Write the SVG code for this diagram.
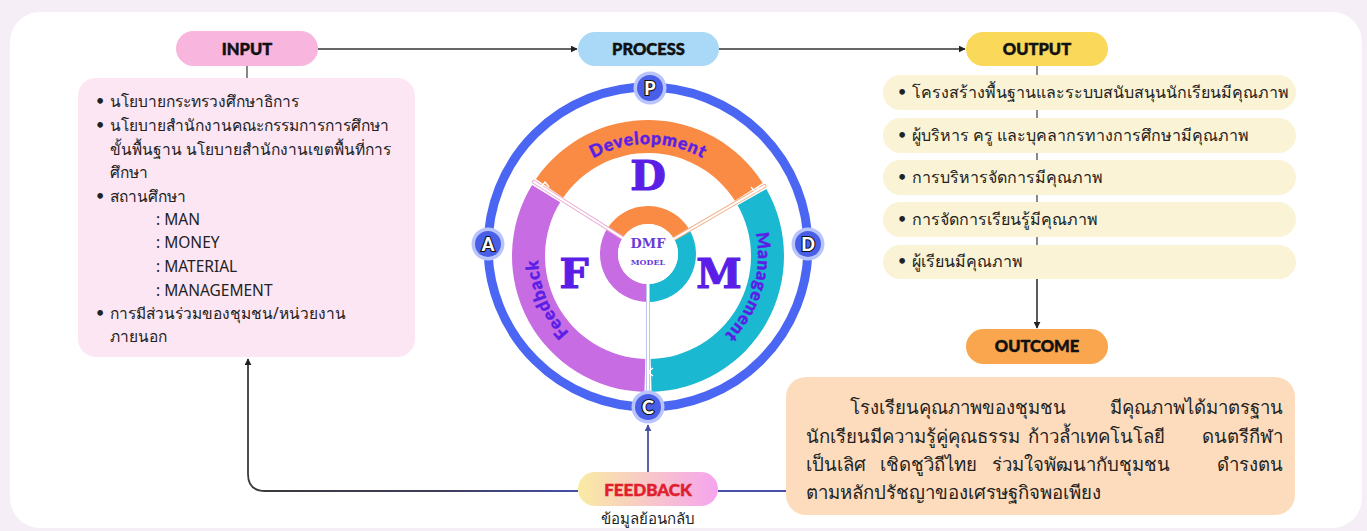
<svg xmlns="http://www.w3.org/2000/svg" width="1367" height="531" viewBox="0 0 1367 531">
<defs>
<style>
.hdr{font-family:"Lato","Inter",sans-serif;font-weight:900;font-size:16.5px;fill:#111;stroke:#111;stroke-width:0.5;text-anchor:middle}
.th{font-family:"Noto Sans","DejaVu Sans",sans-serif;font-size:16px;fill:#222}
.ti{font-family:"Noto Sans","DejaVu Sans",sans-serif;font-size:15.5px;fill:#222}
.bu{font-family:"DejaVu Sans",sans-serif;font-size:16px;fill:#222;font-weight:bold}
.oc{font-family:"Noto Sans","DejaVu Sans",sans-serif;font-size:18.6px;fill:#222}
.big{font-family:"DejaVu Serif",serif;font-weight:bold;font-size:41px;fill:#5a1ee6;stroke:#5a1ee6;stroke-width:1.2;text-anchor:middle}
.arc{font-family:"Lato","Inter",sans-serif;font-weight:900;font-size:17.5px;fill:#5a1ee6;stroke:#5a1ee6;stroke-width:0.4}
.pda{font-family:"Lato","Inter",sans-serif;font-weight:900;font-size:18px;fill:#fff;stroke:#111;stroke-width:2.2;paint-order:stroke;text-anchor:middle}
.ln{fill:none;stroke:#333;stroke-width:1.6}
.lb{fill:none;stroke:#4650a8;stroke-width:1.8}
.tick{stroke:#555;stroke-width:1.4}
</style>
<marker id="ah" viewBox="0 0 10 10" refX="9" refY="5" markerWidth="7" markerHeight="7" orient="auto-start-reverse" markerUnits="userSpaceOnUse">
<path d="M0,0 L10,5 L0,10 z" fill="#222"/>
</marker>
<marker id="ahb" viewBox="0 0 10 10" refX="9" refY="5" markerWidth="7" markerHeight="7" orient="auto-start-reverse" markerUnits="userSpaceOnUse">
<path d="M0,0 L10,5 L0,10 z" fill="#4650a8"/>
</marker>
<linearGradient id="fbg" x1="0" y1="0" x2="1" y2="0">
<stop offset="0" stop-color="#f9eba2"/>
<stop offset="1" stop-color="#f6a4ee"/>
</linearGradient>
<linearGradient id="fbl" x1="0" y1="0" x2="1" y2="0">
<stop offset="0" stop-color="#3a3a3a"/>
<stop offset="0.6" stop-color="#3e3e5c"/>
<stop offset="1" stop-color="#4650a8"/>
</linearGradient>
<path id="pDev" d="M 542.75 217.70 A 112 112 0 0 1 753.25 217.70"/>
<path id="pMan" d="M 728.45 180.98 A 110 110 0 0 1 672.75 363.18"/>
<path id="pFee" d="M 634.59 365.18 A 110 110 0 0 1 560.15 189.80"/>
</defs>

<rect x="0" y="0" width="1367" height="531" fill="#f6eef6"/>
<rect x="10" y="12" width="1352" height="516" rx="30" fill="#ffffff"/>

<g id="connectors">
<line class="ln" x1="318" y1="49" x2="577" y2="49" marker-end="url(#ah)"/>
<line class="ln" x1="719" y1="49" x2="965" y2="49" marker-end="url(#ah)"/>
<line class="tick" x1="247" y1="66" x2="247" y2="78"/>
<line class="tick" x1="1037" y1="66" x2="1037" y2="75"/>
<line class="tick" x1="1037" y1="110" x2="1037" y2="118"/>
<line class="tick" x1="1037" y1="153" x2="1037" y2="160"/>
<line class="tick" x1="1037" y1="195" x2="1037" y2="202"/>
<line class="tick" x1="1037" y1="237" x2="1037" y2="245"/>
<line class="ln" x1="1037" y1="279" x2="1037" y2="328" marker-end="url(#ah)"/>
<path d="M 578 491 L 265 491 Q 248 491 248 474 L 248 359" fill="none" stroke="url(#fbl)" stroke-width="1.8" marker-end="url(#ah)"/>
<line class="lb" x1="718" y1="491" x2="786" y2="491"/>
<line class="lb" x1="648" y1="472" x2="648" y2="425" marker-end="url(#ahb)"/>
</g>

<g id="input">
<rect x="176" y="31" width="142" height="35" rx="17.5" fill="#f8b6df"/>
<text class="hdr" x="247" y="55">INPUT</text>
</g>

<g id="input-box">
<rect x="78" y="78" width="337" height="279" rx="18" fill="#fce6f3"/>
<g class="bu">
<text x="95" y="107">•</text><text x="95" y="131">•</text><text x="95" y="202">•</text><text x="95" y="319">•</text>
</g>
<g class="ti">
<text x="110" y="107">นโยบายกระทรวงศึกษาธิการ</text>
<text x="110" y="131">นโยบายสำนักงานคณะกรรมการการศึกษา</text>
<text x="110" y="155">ขั้นพื้นฐาน นโยบายสำนักงานเขตพื้นที่การ</text>
<text x="110" y="178">ศึกษา</text>
<text x="110" y="202">สถานศึกษา</text>
<text x="156" y="225">: MAN</text>
<text x="156" y="248">: MONEY</text>
<text x="156" y="272">: MATERIAL</text>
<text x="156" y="296">: MANAGEMENT</text>
<text x="110" y="319">การมีส่วนร่วมของชุมชน/หน่วยงาน</text>
<text x="110" y="342">ภายนอก</text>
</g>
</g>

<g id="process">
<rect x="578" y="32" width="141" height="34" rx="17" fill="#a9d9f6"/>
<text class="hdr" x="648.5" y="55">PROCESS</text>
</g>

<g id="output">
<rect x="966" y="32" width="142" height="34" rx="17" fill="#f9d85a"/>
<text class="hdr" x="1037" y="55">OUTPUT</text>
</g>

<g id="output-items">
<g fill="#faf3d5">
<rect x="883" y="75" width="413" height="35" rx="17.5"/>
<rect x="883" y="118" width="413" height="35" rx="17.5"/>
<rect x="883" y="160" width="413" height="35" rx="17.5"/>
<rect x="883" y="202" width="413" height="35" rx="17.5"/>
<rect x="883" y="245" width="413" height="34" rx="17"/>
</g>
<g class="bu">
<text x="897" y="98">•</text><text x="897" y="141">•</text><text x="897" y="183">•</text><text x="897" y="225">•</text><text x="897" y="267">•</text>
</g>
<g class="th">
<text x="912" y="98">โครงสร้างพื้นฐานและระบบสนับสนุนนักเรียนมีคุณภาพ</text>
<text x="912" y="141">ผู้บริหาร ครู และบุคลากรทางการศึกษามีคุณภาพ</text>
<text x="912" y="183">การบริหารจัดการมีคุณภาพ</text>
<text x="912" y="225">การจัดการเรียนรู้มีคุณภาพ</text>
<text x="912" y="267">ผู้เรียนมีคุณภาพ</text>
</g>
</g>

<g id="outcome">
<rect x="966" y="329" width="142" height="35" rx="17.5" fill="#f9a64e"/>
<text class="hdr" x="1037" y="352">OUTCOME</text>
</g>

<g id="outcome-box">
<rect x="786" y="377" width="509" height="138" rx="20" fill="#fddcbd"/>
<g class="oc">
<text x="850" y="414">โรงเรียนคุณภาพของชุมชน</text>
<text x="1283" y="414" text-anchor="end">มีคุณภาพได้มาตรฐาน</text>
<text x="806" y="443">นักเรียนมีความรู้คู่คุณธรรม</text>
<text x="1028" y="443">ก้าวล้ำเทคโนโลยี</text>
<text x="1283" y="443" text-anchor="end">ดนตรีกีฬา</text>
<text x="806" y="471">เป็นเลิศ</text>
<text x="880" y="471">เชิดชูวิถีไทย</text>
<text x="992" y="471">ร่วมใจพัฒนากับชุมชน</text>
<text x="1283" y="471" text-anchor="end">ดำรงตน</text>
<text x="806" y="499">ตามหลักปรัชญาของเศรษฐกิจพอเพียง</text>
</g>
</g>

<g id="feedback">
<rect x="578" y="472" width="140" height="34" rx="17" fill="url(#fbg)"/>
<text x="648" y="496" text-anchor="middle" style="font-family:'Lato','Inter',sans-serif;font-weight:900;font-size:17px;fill:#e01f2e;stroke:#e01f2e;stroke-width:0.5">FEEDBACK</text>
<text class="th" x="648" y="524" text-anchor="middle" style="font-size:15px">ข้อมูลย้อนกลับ</text>
</g>

<g id="dmf-model">
<circle cx="648" cy="247" r="160" fill="none" stroke="#4b66f2" stroke-width="9"/>
<path d="M 535.92 178.97 A 136 136 0 0 1 762.70 182.93 L 734.87 200.66 A 103 103 0 0 0 563.12 197.66 Z" fill="#f98b45"/>
<path d="M 766.37 189.03 A 136 136 0 0 1 651.56 391.95 L 650.70 358.96 A 103 103 0 0 0 737.65 205.28 Z" fill="#1bb8d2"/>
<path d="M 644.44 391.95 A 136 136 0 0 1 532.05 184.94 L 560.18 202.18 A 103 103 0 0 0 645.30 358.96 Z" fill="#c76ce2"/>
<path d="M 615.29 232.76 A 39 39 0 0 1 681.43 233.91" fill="none" stroke="#f98b45" stroke-width="18"/>
<path d="M 681.43 233.91 A 39 39 0 0 1 648 293" fill="none" stroke="#1bb8d2" stroke-width="18"/>
<path d="M 648 293 A 39 39 0 0 1 615.29 232.76" fill="none" stroke="#c76ce2" stroke-width="18"/>
<g stroke-linecap="round">
<line x1="648" y1="254" x2="533.94" y2="181.93" stroke="#eab0d6" stroke-width="4"/>
<line x1="648" y1="254" x2="764.58" y2="185.95" stroke="#f3b48e" stroke-width="4"/>
<line x1="648" y1="254" x2="648" y2="392" stroke="#c0c6ee" stroke-width="4"/>
<line x1="648" y1="254" x2="533.94" y2="181.93" stroke="#fff" stroke-width="2"/>
<line x1="648" y1="254" x2="764.58" y2="185.95" stroke="#fff" stroke-width="2"/>
<line x1="648" y1="254" x2="648" y2="392" stroke="#fff" stroke-width="2"/>
</g>
<circle cx="648" cy="254" r="30" fill="#fff"/>
<text x="648" y="248" text-anchor="middle" style="font-family:'DejaVu Serif',serif;font-weight:bold;font-size:13px;fill:#6a3ad8">DMF</text>
<text x="648" y="265" text-anchor="middle" style="font-family:'DejaVu Serif',serif;font-weight:bold;font-size:8px;fill:#6a3ad8">MODEL</text>
<g fill="none" stroke="#fff" stroke-width="1.4">
<polyline points="541,187 545,182 549,187"/>
<polyline points="751,187 755,192 759,187"/>
<polyline points="653,368 648,372 653,376"/>
</g>
<text class="arc" letter-spacing="0.8"><textPath href="#pDev" startOffset="50%" text-anchor="middle">Development</textPath></text>
<text class="arc" letter-spacing="0.8"><textPath href="#pMan" startOffset="50%" text-anchor="middle">Management</textPath></text>
<text class="arc" letter-spacing="0.8"><textPath href="#pFee" startOffset="50%" text-anchor="middle">Feedback</textPath></text>
<text class="big" x="648" y="190">D</text>
<text class="big" x="574" y="288">F</text>
<text class="big" x="719" y="288">M</text>
<g>
<circle cx="650" cy="88" r="16.5" fill="#b8c4fa"/><circle cx="650" cy="88" r="13" fill="#4a5fe8"/>
<text class="pda" x="650" y="94.5">P</text>
<circle cx="488" cy="244" r="16.5" fill="#b8c4fa"/><circle cx="488" cy="244" r="13" fill="#4a5fe8"/>
<text class="pda" x="488" y="250.5">A</text>
<circle cx="808" cy="244" r="16.5" fill="#b8c4fa"/><circle cx="808" cy="244" r="13" fill="#4a5fe8"/>
<text class="pda" x="808" y="250.5">D</text>
<circle cx="648" cy="407" r="16.5" fill="#b8c4fa"/><circle cx="648" cy="407" r="13" fill="#4a5fe8"/>
<text class="pda" x="648" y="413.5">C</text>
</g>
</g>
</svg>
